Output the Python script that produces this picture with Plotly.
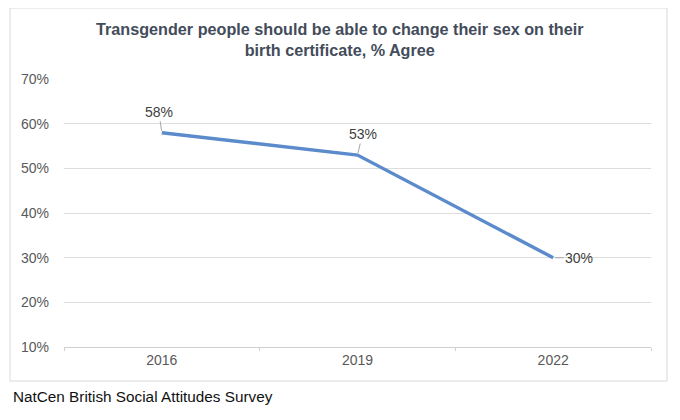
import plotly.graph_objects as go

years = ["2016", "2019", "2022"]
agree = [58, 53, 30]
labels = ["58%", "53%", "30%"]
y_ticks = [10, 20, 30, 40, 50, 60, 70]
y_tick_text = ["10%", "20%", "30%", "40%", "50%", "60%", "70%"]

OFF = 8  # page body margin
W, H = 680, 420
L, R, T, B = 64 - OFF, 29 + OFF, 79 - OFF, 73 + OFF
pw, ph = W - L - R, H - T - B

def px_x(p):
    return (p - OFF - L) / pw

def px_y(p):
    return (H - B - (p - OFF)) / ph

fig = go.Figure()
fig.add_trace(go.Scatter(
    x=years, y=agree, mode="lines",
    line=dict(color="#5B8BCB", width=3.4),
    hoverinfo="skip", showlegend=False,
))

font = "Liberation Sans, Arial, sans-serif"
offsets = [(-3, -21), (5, -21), (26, 0)]
for i, (v, t, (ax, ay)) in enumerate(zip(agree, labels, offsets)):
    fig.add_annotation(
        x=i, y=v, text=t, showarrow=True, arrowhead=0, arrowwidth=1,
        arrowcolor="#A6A6A6", ax=ax, ay=ay, standoff=2,
        font=dict(family=font, size=14, color="#404040"),
    )

fig.add_annotation(
    xref="paper", yref="paper", x=px_x(340), y=px_y(39),
    text="<b>Transgender people should be able to change their sex on their<br>birth certificate, % Agree</b>",
    showarrow=False, xanchor="center", yanchor="middle",
    font=dict(family=font, size=16.2, color="#434C5A"),
)
fig.add_annotation(
    xref="paper", yref="paper", x=px_x(11), y=px_y(396),
    text="NatCen British Social Attitudes Survey",
    showarrow=False, xanchor="left", yanchor="middle",
    font=dict(family=font, size=15.3, color="#111111"),
)
fig.add_shape(
    type="rect", xref="paper", yref="paper",
    x0=px_x(10), x1=px_x(667), y0=px_y(381), y1=px_y(8),
    line=dict(color="#D9D9D9", width=1), fillcolor="rgba(0,0,0,0)", layer="below",
)

fig.update_layout(
    width=W, height=H, margin=dict(l=L, r=R, t=T, b=B),
    paper_bgcolor="white", plot_bgcolor="white",
    font=dict(family=font, size=14, color="#595959"),
    xaxis=dict(type="category", range=[-0.5, 2.5], showgrid=False,
               showline=True, linecolor="#D0D0D0", linewidth=1,
               ticks="outside", tickson="boundaries", ticklen=3, tickcolor="#D0D0D0",
               tickfont=dict(size=14, color="#595959"), fixedrange=True),
    yaxis=dict(range=[10, 70.05], tickvals=y_ticks, ticktext=y_tick_text,
               showgrid=True, gridcolor="#DDDDDD", gridwidth=1, zeroline=False,
               showline=False, ticks="", ticklabelstandoff=14,
               tickfont=dict(size=14, color="#595959"), fixedrange=True),
)

fig.write_html("out.html")
